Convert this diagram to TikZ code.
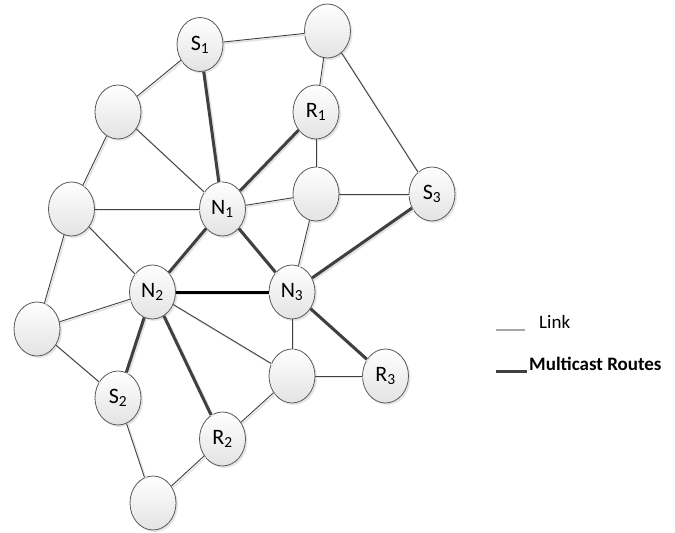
\documentclass[tikz,border=0pt]{standalone}
\usepackage{fontspec}
\setmainfont{Carlito}
\usetikzlibrary{shapes.geometric,shadows}
\begin{document}
\begin{tikzpicture}[x=1pt,y=-1pt,
  nd/.style={ellipse, draw=black!65, line width=0.8pt, minimum width=46pt, minimum height=54pt, inner sep=0pt,
    top color=white, bottom color=gray!22,
    drop shadow={shadow xshift=2pt, shadow yshift=-2pt, fill=gray!40, opacity=0.5},
    font=\fontsize{22}{26}\selectfont},
  lnk/.style={draw=black!75, line width=0.9pt},
  mc/.style={draw=black!75, line width=3pt},
  mcb/.style={draw=black, line width=3pt},
  shd/.style={draw=gray!22, line width=1.6pt, transform canvas={xshift=1.5pt,yshift=-1.5pt}},
  shdt/.style={draw=gray!22, line width=3.2pt, transform canvas={xshift=1.5pt,yshift=-1.5pt}},
  legtext/.style={anchor=west, inner sep=0pt, font=\fontsize{19}{22}\selectfont},
]
\useasboundingbox (0,0) rectangle (675,533);

% nodes
\node[nd] (S1) at (200,44.5) {S\textsubscript{1}};
\node[nd] (T)  at (327.5,31) {};
\node[nd] (A)  at (118,112) {};
\node[nd] (R1) at (316,112) {R\textsubscript{1}};
\node[nd] (C)  at (71.5,209) {};
\node[nd] (N1) at (222.5,209) {N\textsubscript{1}};
\node[nd] (B)  at (316,194) {};
\node[nd] (S3) at (432,194) {S\textsubscript{3}};
\node[nd] (N2) at (152.5,292) {N\textsubscript{2}};
\node[nd] (N3) at (292,292) {N\textsubscript{3}};
\node[nd] (D)  at (37,329) {};
\node[nd] (S2) at (118,398) {S\textsubscript{2}};
\node[nd] (E)  at (292,376) {};
\node[nd] (R3) at (385.5,376) {R\textsubscript{3}};
\node[nd] (R2) at (222.5,439) {R\textsubscript{2}};
\node[nd] (F)  at (153,503) {};

% link shadows
\foreach \a/\b in {S1/T, S1/A, A/C, A/N1, T/R1, T/S3, R1/B, B/S3, B/N1, B/N3, C/N1, C/N2, C/D, D/N2, D/S2, S2/F, F/R2, R2/E, E/N2, E/N3, E/R3}
  \path[shd] (\a) -- (\b);
\foreach \a/\b in {S1/N1, N1/R1, N1/N2, N1/N3, N2/N3, N3/S3, N3/R3, N2/S2, N2/R2}
  \path[shdt] (\a) -- (\b);

% links
\foreach \a/\b in {S1/T, S1/A, A/C, A/N1, T/R1, T/S3, R1/B, B/S3, B/N1, B/N3, C/N1, C/N2, C/D, D/N2, D/S2, S2/F, F/R2, R2/E, E/N2, E/N3, E/R3}
  \path[lnk] (\a) -- (\b);

% multicast routes
\foreach \a/\b in {S1/N1, N1/R1, N1/N2, N1/N3, N3/S3, N3/R3, N2/S2, N2/R2}
  \path[mc] (\a) -- (\b);
\path[mcb] (N2) -- (N3);

% legend
\coordinate (l1a) at (496,330);
\coordinate (l1b) at (525,330);
\coordinate (l2a) at (496,371);
\coordinate (l2b) at (527,371);
\draw[gray!70, line width=1.2pt] (l1a) -- (l1b);
\draw[black!75, line width=3pt] (l2a) -- (l2b);
\node[legtext] (lt1) at (539,322) {Link};
\node[legtext] (lt2) at (529,364) {\bfseries Multicast Routes};
\end{tikzpicture}
\end{document}
